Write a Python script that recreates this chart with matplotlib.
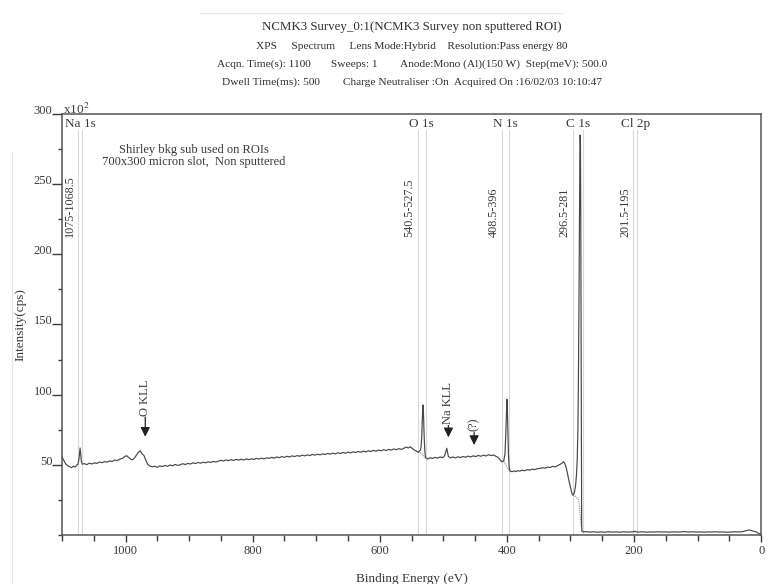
import matplotlib
matplotlib.use("Agg")
import matplotlib.pyplot as plt
from matplotlib.ticker import MultipleLocator
from matplotlib.lines import Line2D

plt.rcParams['font.family'] = ['Liberation Serif', 'DejaVu Serif']
plt.rcParams['mathtext.fontset'] = 'stix'

# ---- survey spectrum: binding energy (eV) and intensity (x10^2 cps) ----
energy = [
    1100, 1097, 1094, 1091, 1088, 1085, 1082, 1079, 1077, 1075,
    1073.5, 1072.3, 1071.5, 1070.7, 1069.5, 1068,
    1065, 1061, 1057, 1053, 1049, 1045, 1041, 1037, 1033, 1029,
    1025, 1021, 1017, 1013, 1009, 1005, 1001, 998, 995, 992,
    989, 986, 983, 980, 977, 974, 971, 968, 965, 962,
    958, 954, 950, 946, 942, 938, 934, 930, 926, 922,
    918, 914, 910, 906, 902, 898, 894, 890, 886, 882,
    878, 874, 870, 866, 862, 858, 854, 850, 846, 842,
    838, 834, 830, 826, 822, 818, 814, 810, 806, 802,
    798, 794, 790, 786, 782, 778, 774, 770, 766, 762,
    758, 754, 750, 746, 742, 738, 734, 730, 726, 722,
    718, 714, 710, 706, 702, 698, 694, 690, 686, 682,
    678, 674, 670, 666, 662, 658, 654, 650, 646, 642,
    638, 634, 630, 626, 622, 618, 614, 610, 606, 602,
    598, 594, 590, 586, 582, 578, 574, 570, 566, 562,
    558, 555, 552, 549, 546, 543, 540, 538, 536,
    535, 534, 533.2, 532.5, 532, 531.5, 530.8, 530, 529, 528, 527,
    525, 521, 517, 513, 509, 505, 501, 498, 496, 494.6,
    493.5, 492, 489, 485, 481, 477, 473, 469, 465, 461,
    457, 453, 449, 445, 441, 437, 433, 429, 425, 421,
    417, 414, 411, 408, 405,
    403, 401.5, 400.5, 400, 399.4, 398.6, 397.6, 396.5,
    395, 392, 389, 386, 383, 380, 376, 372, 368, 364,
    360, 356, 352, 348, 344, 340, 336, 332, 328, 324,
    320, 316, 313, 311, 309, 307, 305, 303, 301, 299,
    297.5, 296.3, 295, 293.5, 292, 290.5, 289.3, 288.3, 287.5, 286.7,
    286, 285.3, 284.8, 284.3, 283.8, 283.3, 282.8, 282.4, 282,
    280, 276, 270, 264, 258, 252, 246, 240, 234, 228,
    222, 216, 210, 204, 200, 198, 196, 192, 186, 180,
    174, 168, 162, 156, 150, 144, 138, 132, 126, 120,
    114, 108, 102, 96, 90, 84, 78, 72, 66, 60,
    54, 48, 42, 36, 30, 26, 22, 19, 16, 12,
    8, 4, 0,
]
intensity = [
    55.8, 53.0, 50.6, 49.4, 48.6, 48.0, 49.0, 48.4, 49.8, 50.2,
    53.5, 58.5, 62.0, 58.0, 52.5, 50.4,
    50.9, 50.1, 51.2, 50.6, 51.4, 51.0, 52.0, 51.5, 52.3, 51.9,
    52.8, 52.4, 53.5, 53.0, 54.1, 54.6, 56.0, 56.5, 55.2, 54.2,
    53.6, 54.9, 56.8, 58.8, 60.1, 57.8, 56.6, 53.2, 50.3, 49.2,
    48.6, 49.0, 48.2, 49.3, 48.7, 49.6, 48.9, 49.9, 49.3, 50.3,
    49.6, 50.0, 50.8, 50.2, 51.0, 50.6, 51.4, 50.9, 51.7, 51.2,
    51.9, 51.4, 52.2, 51.7, 52.5, 52.0, 52.6, 53.2, 52.7, 53.5,
    52.9, 53.7, 53.1, 53.9, 53.4, 54.0, 53.4, 54.2, 53.7, 54.3,
    53.8, 54.6, 54.1, 54.8, 54.2, 55.0, 54.6, 55.3, 54.8, 55.6,
    55.1, 55.9, 55.3, 56.1, 55.6, 56.4, 55.9, 56.6, 56.1, 56.9,
    56.4, 57.1, 56.6, 57.4, 56.9, 57.6, 57.1, 57.8, 57.4, 58.1,
    57.6, 58.3, 57.8, 58.6, 58.1, 58.8, 58.3, 59.0, 58.5, 59.3,
    58.8, 59.5, 59.0, 59.8, 59.2, 60.0, 59.5, 60.3, 59.7, 60.5,
    60.0, 60.8, 60.2, 61.0, 60.5, 61.3, 60.8, 61.5, 61.0, 61.9,
    62.6, 62.0, 62.9, 61.8, 60.6, 60.0, 59.0, 59.6, 60.5,
    63.0, 70.0, 82.0, 90.0, 92.6, 90.0, 80.0, 68.0, 59.0, 55.5, 54.7,
    54.2, 55.0, 54.6, 55.3, 54.8, 55.6, 55.1, 56.5, 59.5, 61.8,
    59.0, 56.0, 55.0, 55.6, 55.0, 55.7, 55.2, 55.9, 55.4, 56.2,
    55.6, 56.4, 55.9, 56.7, 56.1, 56.9, 56.3, 57.2, 56.6, 57.0,
    56.0, 55.3, 53.8, 52.2, 52.8,
    58.0, 75.0, 90.0, 96.7, 92.0, 78.0, 58.0, 48.0,
    45.5, 45.1, 45.6, 45.2, 45.9, 45.5, 46.2, 45.8, 46.6, 46.2,
    46.9, 46.6, 47.3, 47.5, 47.9, 47.6, 48.4, 48.1, 48.9, 48.6,
    49.5, 50.4, 51.3, 52.2, 51.0, 48.5, 44.5, 40.0, 36.0, 32.0,
    29.5, 28.5, 29.0, 31.0, 35.0, 43.0, 55.0, 75.0, 110.0, 160.0,
    215.0, 262.0, 285.0, 278.0, 230.0, 140.0, 45.0, 8.0, 2.6,
    2.2, 2.4, 2.1, 2.3, 2.0, 2.2, 2.0, 2.3, 2.1, 2.2,
    2.0, 2.3, 2.1, 2.2, 2.4, 2.6, 2.2, 2.1, 2.3, 2.0,
    2.2, 2.1, 2.3, 2.1, 2.2, 2.0, 2.3, 2.1, 2.2, 2.4,
    2.1, 2.3, 2.1, 2.2, 2.0, 2.2, 2.1, 2.3, 2.1, 2.2,
    2.0, 2.1, 2.3, 2.2, 2.3, 2.8, 3.3, 3.6, 3.2, 2.7,
    2.2, 1.2, 0.2,
]

# ---- Shirley backgrounds under each region of interest ----
bkg_o1s_e = [540.5, 536, 533, 531, 529, 527.5]
bkg_o1s_i = [59.0, 58.8, 57.5, 56.2, 55.4, 55.2]
bkg_n1s_e = [408.5, 404, 401, 399, 397, 396]
bkg_n1s_i = [52.5, 52.0, 49.5, 47.5, 46.4, 46.0]
bkg_c1s_e = [296.3, 292, 289, 287.4, 286, 284.5, 283.5, 282.5, 281]
bkg_c1s_i = [28.5, 27.5, 26.0, 25.0, 21.0, 14.0, 8.0, 3.5, 2.4]

# ---- regions of interest ----
roi_names = ['Na 1s', 'O 1s', 'N 1s', 'C 1s', 'Cl 2p']
roi_high = [1075, 540.5, 408.5, 296.5, 201.5]
roi_low = [1068.5, 527.5, 396, 281, 195]
roi_ranges = ['1075-1068.5', '540.5-527.5', '408.5-396', '296.5-281', '201.5-195']

# ---- arrowed peak markers ----
mark_labels = ['O KLL', 'Na KLL', '(?)']
mark_energy = [969, 492, 451.6]
mark_tip = [70.0, 69.6, 64.1]
mark_tail = [84.0, 78.0, 73.0]

title_main = "NCMK3 Survey_0:1(NCMK3 Survey non sputtered ROI)"
title_info = [
    "XPS     Spectrum     Lens Mode:Hybrid    Resolution:Pass energy 80",
    "Acqn. Time(s): 1100       Sweeps: 1        Anode:Mono (Al)(150 W)  Step(meV): 500.0",
    "Dwell Time(ms): 500        Charge Neutraliser :On  Acquired On :16/02/03 10:10:47",
]

ink = '#3a3a3a'
fig = plt.figure(figsize=(7.70, 5.84), dpi=100)
ax = fig.add_axes([0.0805, 0.0839, 0.908, 0.7209])

# ROI marker lines
for hi, lo in zip(roi_high, roi_low):
    for e in (hi, lo):
        ax.axvline(e, ymin=0, ymax=0.962, color='#d9d9d9', lw=0.8, zorder=1)

ax.plot(energy, intensity, color='#474747', lw=0.85, zorder=3)
for be, bi in ((bkg_o1s_e, bkg_o1s_i), (bkg_n1s_e, bkg_n1s_i), (bkg_c1s_e, bkg_c1s_i)):
    ax.plot(be, bi, color='#8a8a8a', lw=0.8, ls=(0, (1, 1)), zorder=2)

ax.set_xlim(1100, 0)
ax.set_ylim(0, 300)

ax.xaxis.set_major_locator(MultipleLocator(200))
ax.xaxis.set_minor_locator(MultipleLocator(50))
ax.yaxis.set_major_locator(MultipleLocator(50))
ax.yaxis.set_minor_locator(MultipleLocator(25))
ax.set_yticks([50, 100, 150, 200, 250, 300])
ax.set_yticklabels(['50', '100', '150', '200', '250', '300'])

ax.tick_params(axis='x', which='major', direction='out', length=5, width=1.0,
               pad=2.5, labelsize=9, colors=ink)
ax.tick_params(axis='x', which='minor', direction='out', length=4, width=1.0, colors=ink)
ax.tick_params(axis='y', which='major', direction='out', length=7, width=1.0,
               pad=0, labelsize=9, colors=ink)
ax.tick_params(axis='y', which='minor', direction='out', length=3, width=1.0, colors=ink)
for lab in ax.get_yticklabels():
    lab.set_verticalalignment('baseline')

for sp in ax.spines.values():
    sp.set_color('#555555')
    sp.set_linewidth(1.1)

ax.set_xlabel('Binding Energy (eV)', fontsize=9.5, color=ink, labelpad=11)
ax.set_ylabel('Intensity(cps)', fontsize=9.5, color=ink, labelpad=5)

# ROI names and energy ranges
for name, hi, lo, rng in zip(roi_names, roi_high, roi_low, roi_ranges):
    ax.text((hi + lo) / 2, 293, name, ha='center', va='center',
            fontsize=9.5, color=ink, zorder=4)
    ax.annotate(rng, xy=(hi, 212), xytext=(-1.5, 0), textcoords='offset points',
                rotation=90, ha='right', va='bottom', fontsize=8.7, color=ink)

ax.text(893, 270, "Shirley bkg sub used on ROIs\n700x300 micron slot,  Non sputtered",
        ha='center', va='center', fontsize=9, color=ink, linespacing=1.0)

ax.text(0.002, 1.0, r'x10$^{2}$', transform=ax.transAxes, ha='left',
        va='baseline', fontsize=9.5, color=ink)

# arrowed peak markers
for lab, e, tip, tail in zip(mark_labels, mark_energy, mark_tip, mark_tail):
    ax.annotate('', xy=(e, tip), xytext=(e, tail),
                arrowprops=dict(arrowstyle='-|>', color='#222222', lw=0.9,
                                mutation_scale=14, shrinkA=0, shrinkB=0))
    ax.text(e, tail + 1.0, lab, rotation=90, ha='center', va='bottom',
            fontsize=9, color=ink)

# header block
fig.text(0.535, 0.9538, title_main, ha='center', va='center',
         fontsize=9.3, color='#2e2e2e')
for i, line in enumerate(title_info):
    fig.text(0.535, 0.9212 - i * 0.0312, line, ha='center', va='center',
             fontsize=8.2, color='#2e2e2e')

# faint scan edges
fig.add_artist(Line2D([0.016, 0.016], [0.0, 0.74], color='#e6e6e6', lw=0.8))
fig.add_artist(Line2D([0.26, 0.73], [0.978, 0.978], color='#e8e8e8', lw=0.8))

fig.savefig('out.png', dpi=100)
